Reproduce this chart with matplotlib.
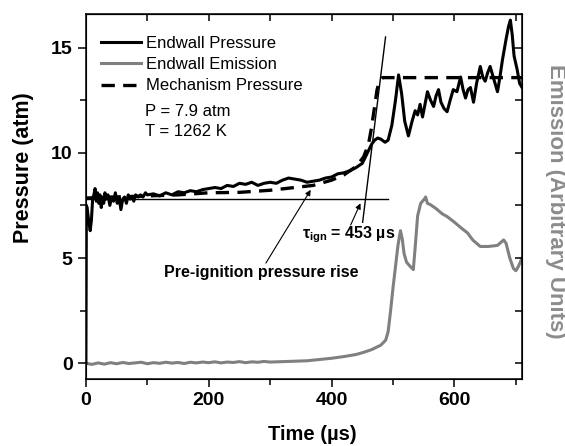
import matplotlib
matplotlib.use("Agg")
import matplotlib.pyplot as plt

plt.rcParams['font.family'] = ['Liberation Sans', 'DejaVu Sans']
plt.rcParams['mathtext.fontset'] = 'custom'
plt.rcParams['mathtext.rm'] = 'Liberation Sans:bold'
plt.rcParams['mathtext.bf'] = 'Liberation Sans:bold'
plt.rcParams['mathtext.it'] = 'Liberation Sans:bold'

# endwall pressure (atm)
t_press = [0, 0.8, 2, 4, 7, 9, 11, 13, 15, 17, 19, 21, 23, 25, 27, 29, 31, 33, 36, 39,
           42, 45, 48, 51, 54, 57, 60, 63, 66, 69, 72, 75, 78, 81, 85, 89, 93, 97, 100,
           110, 120, 130, 140, 150, 160, 170, 180, 190, 200, 210, 220, 230, 240, 250,
           260, 270, 280, 290, 300, 310, 320, 330, 340, 350, 360, 370, 380, 390, 400,
           410, 420, 430, 440, 450, 455, 460, 465, 470, 475, 480, 487, 492, 498, 504,
           509, 514, 519, 525, 531, 536, 540, 544, 548, 552, 556, 561, 566, 570, 574,
           578, 583, 588, 593, 598, 604, 610, 614, 618, 622, 626, 631, 636, 642, 646,
           650, 654, 658, 664, 670, 674, 678, 684, 688, 691, 694, 697, 702, 706, 710]
p_press = [0, 7.5, 7.4, 6.9, 6.3, 6.8, 7.8, 8.0, 8.3, 7.7, 8.1, 7.6, 8.0, 7.4, 7.9, 7.6,
           8.1, 7.8, 8.0, 7.5, 7.9, 7.7, 8.1, 7.6, 7.9, 7.3, 7.8, 7.9, 7.6, 8.0, 7.8,
           7.9, 7.7, 8.0, 7.9, 8.0, 7.9, 8.1, 8.0,
           8.05, 7.95, 8.1, 8.0, 8.15, 8.1, 8.2, 8.15, 8.25, 8.3, 8.35, 8.3, 8.45, 8.4,
           8.55, 8.5, 8.6, 8.45, 8.55, 8.6, 8.55, 8.7, 8.8, 8.75, 8.7, 8.6, 8.65, 8.7,
           8.8, 8.85, 9.0, 9.05, 9.15, 9.3, 9.5, 9.8, 10.1, 10.4, 10.6, 10.7, 10.65,
           10.5, 10.6, 11.3, 12.5, 13.7, 12.8, 11.5, 10.8, 11.5, 12.0, 11.8, 12.3, 11.7,
           12.3, 12.9, 12.5, 12.2, 12.7, 13.0, 12.4, 12.1, 11.95, 12.5, 13.0, 12.9, 13.6,
           13.0, 12.6, 13.0, 13.1, 12.4, 13.3, 14.1, 13.6, 13.4, 13.8, 14.1, 13.5, 12.9,
           13.6, 14.4, 15.4, 16.0, 16.3, 15.6, 14.6, 13.95, 13.3, 13.1]

# mechanism pressure (atm)
t_mech = [0, 50, 100, 150, 200, 250, 300, 340, 370, 400, 420, 440, 452, 460, 465,
          470, 474, 478, 483, 490, 710]
p_mech = [7.85, 7.9, 7.95, 8.0, 8.1, 8.12, 8.22, 8.35, 8.45, 8.7, 8.95, 9.35, 9.8,
          10.4, 11.2, 12.2, 13.0, 13.4, 13.57, 13.57, 13.57]

# endwall emission, scaled to the pressure axis
t_emis = [0, 10, 20, 30, 40, 50, 60, 70, 80, 90, 100, 110, 120, 130, 140, 150, 160,
          170, 180, 190, 200, 210, 220, 230, 240, 250, 260, 270, 280, 290, 300, 320,
          340, 360, 380, 400, 420, 440, 452, 465, 480, 488, 492, 496, 500, 504, 508,
          512, 515, 518, 522, 528, 533, 536, 540, 545, 551, 553, 556, 560, 570, 580,
          588, 600, 610, 621, 630, 642, 655, 670, 680, 684, 690, 696, 700, 704, 710]
e_emis = [0.0, -0.05, 0.02, -0.04, 0.03, -0.02, 0.04, -0.01, 0.02, 0.05, -0.02, 0.03,
          0.0, 0.05, 0.01, 0.04, -0.01, 0.05, 0.02, 0.06, 0.03, 0.07, 0.02, 0.06, 0.04,
          0.08, 0.03, 0.07, 0.05, 0.09, 0.06, 0.08, 0.1, 0.12, 0.18, 0.24, 0.32, 0.42,
          0.52, 0.65, 0.86, 1.1, 1.5, 2.5, 3.6, 4.6, 5.6, 6.3, 5.9, 5.2, 4.8, 4.6, 4.45,
          5.5, 7.0, 7.6, 7.8, 7.9, 7.6, 7.55, 7.35, 7.1, 6.97, 6.7, 6.45, 6.2, 5.85,
          5.55, 5.55, 5.6, 5.86, 5.7, 5.0, 4.5, 4.4, 4.6, 5.0]

# ignition construction lines
t_base = [0, 491]
p_base = [7.8, 7.8]
t_tan = [450.5, 487.8]
p_tan = [6.7, 15.5]

fig = plt.figure(figsize=(5.65, 4.46), dpi=100)
ax = fig.add_axes([0.152, 0.150, 0.772, 0.819])

ax.plot(t_base, p_base, color='black', lw=1.0)
ax.plot(t_tan, p_tan, color='black', lw=1.0)
l2, = ax.plot(t_emis, e_emis, color='#808080', lw=2.2, label='Endwall Emission')
l1, = ax.plot(t_press, p_press, color='black', lw=2.2, label='Endwall Pressure')
l3, = ax.plot(t_mech, p_mech, color='black', lw=2.4, ls=(0, (4, 2.5)),
              label='Mechanism Pressure')

ax.set_xlim(0, 710)
ax.set_ylim(-0.75, 16.6)
ax.set_xticks([0, 200, 400, 600])
ax.set_xticks([100, 300, 500, 700], minor=True)
ax.set_yticks([0, 5, 10, 15])
ax.set_yticks([2.5, 7.5, 12.5], minor=True)
ax.tick_params(direction='out', which='major', length=6, width=1.1,
               labelsize=14)
ax.tick_params(direction='out', which='minor', length=4, width=1.1)
for lab in ax.get_xticklabels() + ax.get_yticklabels():
    lab.set_fontweight('bold')
for s in ax.spines.values():
    s.set_linewidth(1.1)

ax.set_xlabel('Time (µs)', fontsize=14.5, fontweight='bold', labelpad=4)
ax.xaxis.set_label_coords(0.52, -0.125)
ax.set_ylabel('Pressure (atm)', fontsize=15.5, fontweight='bold')
ax.yaxis.set_label_coords(-0.12, 0.578)

# top and right ticks point inward
top = ax.secondary_xaxis('top')
top.set_xticks([100, 200, 300, 400, 500, 600, 700])
top.tick_params(direction='in', length=5, width=1.1, labeltop=False)

ax2 = ax.twinx()
ax2.set_ylim(ax.get_ylim())
ax2.set_yticks([0, 2.5, 5, 7.5, 10, 12.5, 15])
ax2.tick_params(direction='in', length=5, width=1.1, labelright=False)
ax2.set_ylabel('Emission (Arbitrary Units)', fontsize=16, fontweight='bold',
               color='#8c8c8c', rotation=270)
ax2.yaxis.set_label_coords(1.1, 0.488)

ax.legend(handles=[l1, l2, l3], loc='upper left', bbox_to_anchor=(0.034, 0.94),
          frameon=False, fontsize=12, handlelength=2.4, handletextpad=0.3,
          labelspacing=0.38, borderaxespad=0, borderpad=0)
ax.text(96, 11.95, 'P = 7.9 atm', fontsize=12, va='center')
ax.text(96, 11.0, 'T = 1262 K', fontsize=12, va='center')

ax.annotate('', xy=(366, 8.24), xytext=(293, 4.76),
            arrowprops=dict(arrowstyle='-|>', color='black', lw=0.8,
                            mutation_scale=8, shrinkA=0, shrinkB=0))
ax.text(286, 4.33, 'Pre-ignition pressure rise', fontsize=11.5,
        fontweight='bold', ha='center', va='center')
ax.annotate('', xy=(447, 7.6), xytext=(431, 6.57),
            arrowprops=dict(arrowstyle='-|>', color='black', lw=0.8,
                            mutation_scale=8, shrinkA=0, shrinkB=0))
ax.text(352, 6.1, r'τ$_{ign}$ = 453 µs', fontsize=11.5, fontweight='bold',
        ha='left', va='center')

fig.savefig('out.png', dpi=100)
